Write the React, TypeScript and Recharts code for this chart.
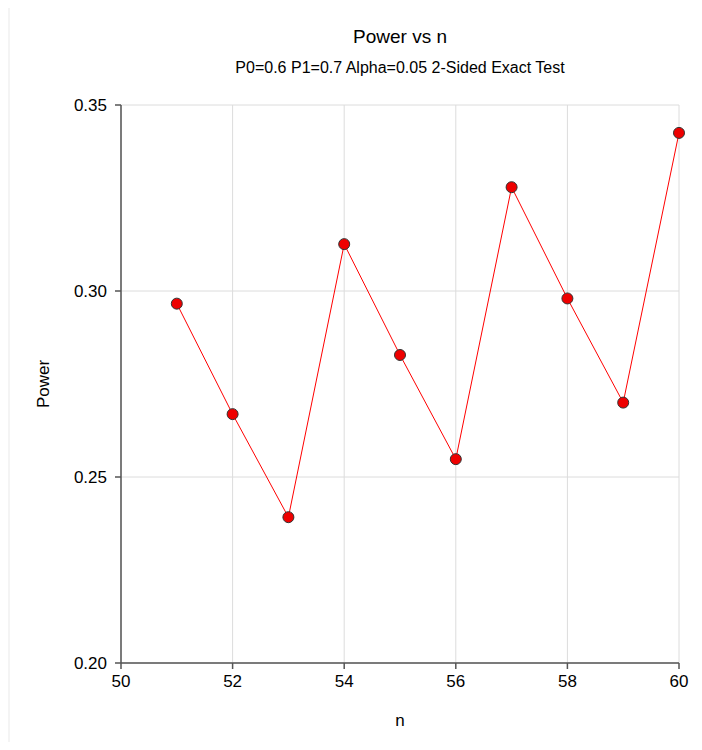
import React from "react";
import { LineChart, Line, XAxis, YAxis, CartesianGrid } from "recharts";

const nValues = [51, 52, 53, 54, 55, 56, 57, 58, 59, 60];
const powerValues = [0.2966, 0.2669, 0.2392, 0.3126, 0.2828, 0.2548, 0.3279, 0.298, 0.27, 0.3425];
const xTicks = [50, 52, 54, 56, 58, 60];
const yTicks = [0.2, 0.25, 0.3, 0.35];

const chartTitle = "Power vs n";
const chartSubtitle = "P0=0.6 P1=0.7 Alpha=0.05 2-Sided Exact Test";

const FONT = '"Liberation Sans", Arial, sans-serif';

const data = nValues.map((n, i) => ({ n, power: powerValues[i] }));

const App: React.FC = () => {
  return (
    <div
      style={{
        position: "relative",
        width: 702,
        height: 750,
        margin: -8,
        background: "#f4f4f4",
        overflow: "hidden",
        fontFamily: FONT,
      }}
    >
      {/* white panel */}
      <div style={{ position: "absolute", left: 10, top: 5, right: 0, bottom: 0, background: "#ffffff" }} />

      <div
        style={{
          position: "absolute",
          left: 200,
          width: 400,
          top: 27,
          textAlign: "center",
          fontSize: 19,
          lineHeight: "19px",
          color: "#000",
        }}
      >
        {chartTitle}
      </div>
      <div
        style={{
          position: "absolute",
          left: 150,
          width: 500,
          top: 60,
          textAlign: "center",
          fontSize: 16,
          lineHeight: "16px",
          color: "#000",
        }}
      >
        {chartSubtitle}
      </div>

      <div style={{ position: "absolute", left: 0, top: 0 }}>
        <LineChart width={702} height={750} data={data} margin={{ top: 105, right: 23, bottom: 0, left: 0 }}>
          <CartesianGrid stroke="#dcdcdc" strokeWidth={1} />
          <XAxis
            dataKey="n"
            type="number"
            domain={[50, 60]}
            ticks={xTicks}
            height={87}
            stroke="#555"
            strokeWidth={1.5}
            tickSize={6}
            tickMargin={6}
            tick={{ fill: "#000", fontSize: 17, fontFamily: FONT }}
            label={{ value: "n", position: "insideBottom", offset: 24, fill: "#000", fontSize: 17, fontFamily: FONT }}
          />
          <YAxis
            type="number"
            domain={[0.2, 0.35]}
            ticks={yTicks}
            width={121}
            stroke="#555"
            strokeWidth={1.5}
            tickSize={6}
            tickMargin={8}
            tickFormatter={(v: number) => v.toFixed(2)}
            tick={{ fill: "#000", fontSize: 17, fontFamily: FONT }}
            label={{
              value: "Power",
              angle: -90,
              position: "insideLeft",
              offset: 43,
              fill: "#000",
              fontSize: 17,
              fontFamily: FONT,
              style: { textAnchor: "middle" },
            }}
          />
          <Line
            dataKey="power"
            stroke="#ff0000"
            strokeWidth={1}
            isAnimationActive={false}
            dot={{ r: 5.5, fill: "#ee0000", stroke: "#333", strokeWidth: 1 }}
            activeDot={false}
          />
        </LineChart>
      </div>
    </div>
  );
};

export default App;
